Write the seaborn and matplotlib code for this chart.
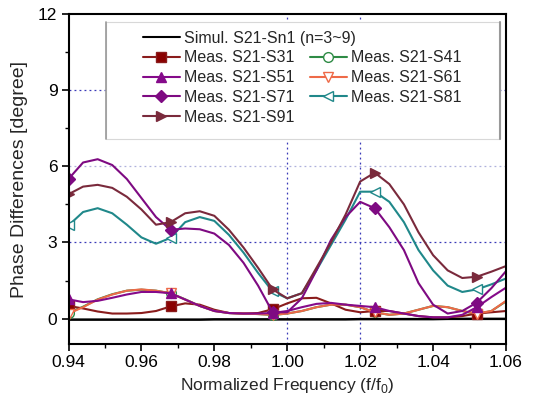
import numpy as np
import pandas as pd
import matplotlib
matplotlib.use("Agg")
import matplotlib.pyplot as plt
from matplotlib.patches import Rectangle
from matplotlib.lines import Line2D
import seaborn as sns

freq = [0.940, 0.944, 0.948, 0.952, 0.956, 0.960, 0.964, 0.968, 0.972, 0.976,
        0.980, 0.984, 0.988, 0.992, 0.996, 1.000, 1.004, 1.008, 1.012, 1.016,
        1.020, 1.024, 1.028, 1.032, 1.036, 1.040, 1.044, 1.048, 1.052, 1.056, 1.060]

simul = [-0.04, -0.04, -0.04, -0.04, -0.04, -0.04, -0.04, -0.04, -0.04, -0.04,
         -0.03, -0.03, -0.03, -0.03, -0.03, -0.03, -0.03, -0.03, -0.03, -0.03,
         -0.02, -0.02, -0.02, -0.02, -0.02, -0.02, -0.01, -0.01, -0.01, -0.01, -0.01]
s31 = [0.50, 0.40, 0.28, 0.20, 0.20, 0.22, 0.30, 0.48, 0.60, 0.55,
       0.35, 0.22, 0.20, 0.22, 0.37, 0.60, 0.80, 0.82, 0.60, 0.35,
       0.25, 0.30, 0.30, 0.20, 0.10, 0.05, 0.05, 0.10, 0.20, 0.25, 0.30]
s41 = [0.22, 0.47, 0.76, 0.96, 1.10, 1.14, 1.10, 1.00, 0.76, 0.50,
       0.30, 0.22, 0.20, 0.18, 0.14, 0.20, 0.30, 0.45, 0.55, 0.55,
       0.45, 0.25, 0.15, 0.20, 0.35, 0.50, 0.45, 0.30, 0.18, 0.30, 0.68]
s51 = [0.76, 0.65, 0.70, 0.82, 0.95, 1.05, 1.05, 1.00, 0.75, 0.50,
       0.30, 0.22, 0.20, 0.20, 0.22, 0.30, 0.45, 0.58, 0.62, 0.55,
       0.50, 0.45, 0.30, 0.20, 0.10, 0.05, 0.05, 0.15, 0.45, 0.85, 1.22]
s61 = [0.20, 0.45, 0.75, 0.95, 1.10, 1.15, 1.10, 1.00, 0.75, 0.50,
       0.30, 0.22, 0.20, 0.18, 0.15, 0.20, 0.30, 0.45, 0.55, 0.55,
       0.45, 0.25, 0.15, 0.20, 0.35, 0.50, 0.45, 0.30, 0.20, 0.30, 0.70]
s71 = [5.50, 6.15, 6.28, 6.05, 5.50, 4.75, 4.00, 3.50, 3.55, 3.52,
       3.35, 2.90, 2.20, 1.30, 0.25, 0.25, 0.80, 1.90, 3.10, 4.00,
       4.60, 4.35, 3.60, 2.70, 1.40, 0.55, 0.20, 0.30, 0.63, 1.20, 1.87]
s81 = [3.67, 4.20, 4.35, 4.15, 3.70, 3.20, 2.95, 3.18, 3.80, 4.00,
       3.85, 3.30, 2.60, 1.80, 1.07, 0.80, 1.00, 1.90, 2.90, 3.90,
       5.00, 5.00, 4.60, 3.80, 2.70, 1.90, 1.30, 1.05, 1.15, 1.35, 1.58]
s91 = [4.90, 5.20, 5.27, 5.15, 4.80, 4.30, 3.70, 3.80, 4.15, 4.23,
       4.05, 3.50, 2.80, 2.00, 1.15, 0.80, 1.00, 2.00, 3.00, 4.10,
       5.40, 5.75, 5.30, 4.50, 3.40, 2.50, 1.90, 1.60, 1.65, 1.85, 2.07]

labels = ["Simul. S21-Sn1 (n=3~9)", "Meas. S21-S31", "Meas. S21-S41",
          "Meas. S21-S51", "Meas. S21-S61", "Meas. S21-S71",
          "Meas. S21-S81", "Meas. S21-S91"]

sns.set_theme(style="white")
plt.rcParams['font.family'] = ['Liberation Sans', 'DejaVu Sans']
plt.rcParams['mathtext.fontset'] = 'custom'
plt.rcParams['mathtext.rm'] = 'Liberation Sans'

fig = plt.figure(figsize=(5.36, 4.04), dpi=100)
ax = fig.add_axes([68.5 / 536, 1 - 344 / 404, 437.5 / 536, 330 / 404])

# grid lines (only selected ones, dotted blue)
for yv, c in [(3, "#3a3ab8"), (6, "#aeb0dc"), (9, "#3a3ab8")]:
    ax.axhline(yv, color=c, lw=0.9, ls=(0, (1.5, 2.5)), zorder=0)
for xv in [1.00, 1.02]:
    ax.axvline(xv, color="#3a3ab8", lw=0.9, ls=(0, (1.5, 2.5)), zorder=0)

styles = [
    (simul, "black", None, "black", 0),
    (s31, "#8a1c1c", "s", "#8a0000", 7),
    (s41, "#2e8b45", "o", "white", 7),
    (s51, "#850a8a", "^", "#850a8a", 7),
    (s61, "#ee6a48", "v", "white", 7),
    (s71, "#7e0a82", "D", "#7e0a82", 6.5),
    (s81, "#20888a", "<", "white", 7),
    (s91, "#7a2a3c", ">", "#7a2a3c", 7.5),
]
order = [0, 2, 1, 4, 3, 6, 5, 7]
handles = {}
for i in order:
    vals, col, mk, fc, ms = styles[i]
    kw = dict(color=col, lw=1.5 if i else 1.8, ax=ax)
    if mk is not None:
        kw.update(marker=mk, markevery=7, markersize=ms, markerfacecolor=fc,
                  markeredgecolor=col, markeredgewidth=1.0)
    sns.lineplot(x=freq, y=vals, **kw)
    handles[i] = Line2D([], [], color=col, lw=1.5,
                        marker=mk if mk else None, markersize=ms,
                        markerfacecolor=fc, markeredgecolor=col)

ax.set_xlim(0.94, 1.06)
ax.set_ylim(-1, 12)
ax.set_xticks([0.94, 0.96, 0.98, 1.00, 1.02, 1.04, 1.06])
ax.set_xticklabels(["0.94", "0.96", "0.98", "1.00", "1.02", "1.04", "1.06"])
ax.set_yticks([0, 3, 6, 9, 12])
ax.set_xticks(np.arange(0.95, 1.06, 0.02), minor=True)
ax.set_yticks([1.5, 4.5, 7.5, 10.5], minor=True)
ax.tick_params(axis="both", which="major", direction="out", length=5, width=1.2,
               labelsize=12.5, color="black", labelcolor="black", pad=3,
               bottom=True, left=True)
ax.tick_params(axis="both", which="minor", direction="out", length=3, width=1.0,
               color="black", bottom=True, left=True)
for sp in ax.spines.values():
    sp.set_color("black")
    sp.set_linewidth(1.5)

ax.set_xlabel("Normalized Frequency (f/f$_\\mathregular{0}$)", fontsize=12.5, labelpad=4)
ax.set_ylabel("Phase Differences [degree]", fontsize=14, labelpad=7)

# legend box
box = Rectangle((0.0857, 0.621), 0.9, 0.355, transform=ax.transAxes,
                facecolor="white", edgecolor="#d8d8d8", lw=0.8, zorder=5)
ax.add_patch(box)
ax.plot([0.0857, 0.0857], [0.621, 0.976], transform=ax.transAxes,
        color="#999999", lw=1.2, zorder=6)
ax.plot([0.9857, 0.9857], [0.621, 0.976], transform=ax.transAxes,
        color="#999999", lw=1.5, zorder=6)

common = dict(frameon=False, fontsize=11.5, handlelength=2.3, handletextpad=0.25,
              borderpad=0, borderaxespad=0, labelspacing=0.3, loc="upper left")
legA = ax.legend([handles[0]], [labels[0]], bbox_to_anchor=(0.170, 0.950), **common)
legA.set_zorder(7)
ax.add_artist(legA)
blank = Line2D([], [], color="none")
hB = [handles[1], handles[3], handles[5], handles[7], handles[2], handles[4], handles[6], blank]
lB = [labels[1], labels[3], labels[5], labels[7], labels[2], labels[4], labels[6], ""]
legB = ax.legend(hB, lB, ncol=2, columnspacing=1.0,
                 bbox_to_anchor=(0.170, 0.890), **common)
legB.set_zorder(7)

fig.savefig("out.png", dpi=100)
